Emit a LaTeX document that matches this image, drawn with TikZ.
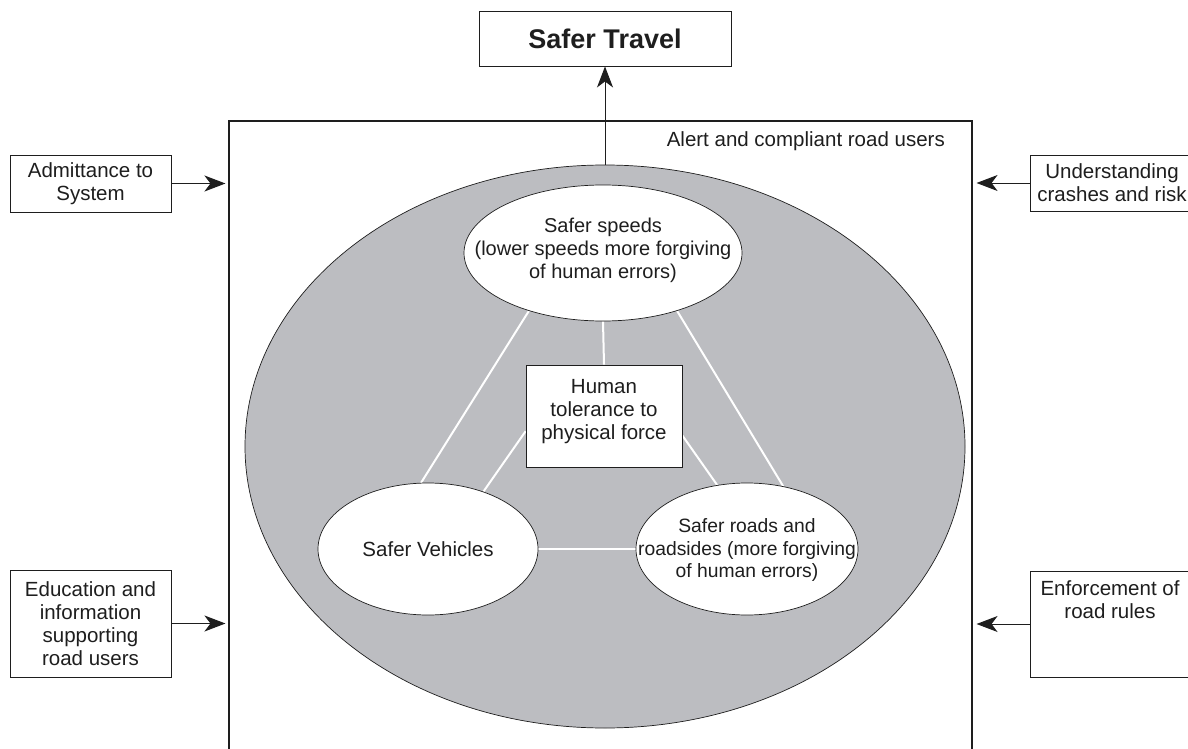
\documentclass[tikz,border=0pt]{standalone}
\usepackage{fontspec}
\setmainfont{Liberation Sans}
\usetikzlibrary{shapes.geometric,arrows.meta,calc}
\definecolor{fieldgray}{RGB}{188,189,193}
\definecolor{ink}{RGB}{30,30,30}
\pgfdeclarelayer{bg}
\pgfdeclarelayer{mid}
\pgfsetlayers{bg,mid,main}
\begin{document}
\begin{tikzpicture}[x=1pt,y=-1pt,
  txt/.style={font=\fontsize{20.5}{23}\selectfont, text=ink, align=center, inner sep=0pt},
  smalltxt/.style={txt, font=\fontsize{19.3}{22.7}\selectfont},
  sidebox/.style={draw=ink, line width=0.9pt, fill=white, inner sep=0pt},
  oval/.style={ellipse, draw=ink, line width=0.7pt, fill=white, inner sep=0pt},
  link/.style={white, line width=2pt},
  arr/.style={draw=ink, line width=1pt, -{Stealth[length=21pt,width=16pt,inset=6pt]}}
]
\useasboundingbox (0,0) rectangle (1188,749);
\clip (0,0) rectangle (1188,749);

% outer frame (open at bottom) and big gray ellipse
\begin{pgfonlayer}{bg}
\node[draw=ink, line width=1.1pt, minimum width=743pt, minimum height=700pt, inner sep=0pt] (users) at (600.5,471) {};
\node[ellipse, draw=ink, line width=0.7pt, fill=fieldgray, minimum width=720pt, minimum height=563pt, inner sep=0pt] (field) at (605,446.5) {};
\end{pgfonlayer}
\node[txt, anchor=east] (alert) at (945,141) {Alert and compliant road users};

% inner shapes
\node[oval, minimum width=278pt, minimum height=136pt] (speeds) at (603,253) {};
\node[smalltxt, font=\fontsize{20}{23}\selectfont] at ($(speeds)+(0,-3)$) {Safer speeds\\(lower speeds more forgiving\\of human errors)};
\node[oval, minimum width=220pt, minimum height=132pt] (vehicles) at (428,549) {};
\node[txt] at (vehicles) {Safer Vehicles};
\node[oval, minimum width=222pt, minimum height=132pt] (roads) at (747,549) {};
\node[smalltxt] at ($(roads)+(0,1)$) {Safer roads and\\roadsides (more forgiving\\of human errors)};
\node[sidebox, line width=0.8pt, minimum width=156pt, minimum height=102pt] (human) at (604,416) {};
\node[txt] at ($(human)+(0,-4)$) {Human\\tolerance to\\physical force};

% white links between the inner shapes
\begin{pgfonlayer}{mid}
\draw[link] (speeds.218) -- (vehicles.96);
\draw[link] (speeds.322) -- (roads.60);
\draw[link] (speeds.south) -- (human.north);
\draw[link] (human.191.6) -- (vehicles.46);
\draw[link] (human.346) -- (roads.115);
\draw[link] (vehicles.east) -- (roads.west);
\end{pgfonlayer}

% goal
\node[sidebox, minimum width=252pt, minimum height=55pt] (travel) at (605,38.5) {};
\node[txt, font=\fontsize{27}{31}\selectfont\bfseries] at (travel) {Safer Travel};
\draw[arr] (field.north) -- (travel.south);

% side inputs
\node[sidebox, minimum width=161pt, minimum height=57pt] (admit) at (90.5,183.5) {};
\node[txt] at (admit) {Admittance to\\System};
\node[sidebox, minimum width=161pt, minimum height=107pt] (educ) at (90.5,623.5) {};
\node[txt] at (educ) {Education and\\information\\supporting\\road users};
\node[sidebox, minimum width=164pt, minimum height=56pt] (under) at (1112,183) {};
\node[txt] at (under) {Understanding\\crashes and risk};
\node[sidebox, minimum width=164pt, minimum height=106pt] (enforce) at (1112,624) {};
\node[txt] at (1110,600) {Enforcement of\\road rules};

\draw[arr, shorten >=3pt] (admit.east) -- (admit.east -| users.west);
\draw[arr, shorten >=3pt] (educ.east) -- (educ.east -| users.west);
\draw[arr, shorten >=4pt] (under.west) -- (under.west -| users.east);
\draw[arr, shorten >=4pt] (enforce.west) -- (enforce.west -| users.east);
\end{tikzpicture}
\end{document}
